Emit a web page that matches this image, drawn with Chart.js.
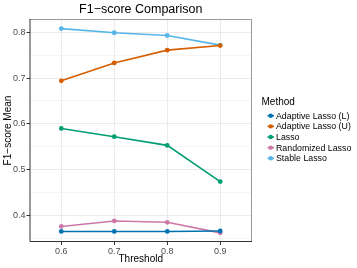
<!DOCTYPE html>
<html>
<head>
<meta charset="utf-8">
<script src="https://cdn.jsdelivr.net/npm/chart.js@4"></script>
<style>
  html, body { margin: 0; padding: 0; background: #fff; }
  #wrap { width: 357px; height: 268px; position: relative; }
</style>
</head>
<body>
<div id="wrap"><canvas id="chart" width="357" height="268"></canvas></div>
<script>
// values
const thresholds = [0.6, 0.7, 0.8, 0.9];
const methods = ['Adaptive Lasso (L)', 'Adaptive Lasso (U)', 'Lasso', 'Randomized Lasso', 'Stable Lasso'];
const adaptiveL = [0.365, 0.365, 0.365, 0.366];
const adaptiveU = [0.694, 0.733, 0.761, 0.771];
const lasso = [0.590, 0.572, 0.553, 0.474];
const randomized = [0.376, 0.388, 0.385, 0.362];
const stable = [0.808, 0.799, 0.793, 0.772];
const yTicks = [0.35, 0.4, 0.45, 0.5, 0.55, 0.6, 0.65, 0.7, 0.75, 0.8];
const yLabels = ['0.4', '0.5', '0.6', '0.7', '0.8'];

const colors = ['#0072B2', '#D55E00', '#009E73', '#CC79A7', '#56B4E9'];
const series = [adaptiveL, adaptiveU, lasso, randomized, stable];
const FONT = 'Liberation Sans, Arial, sans-serif';

const datasets = series.map((vals, i) => ({
    label: methods[i],
    data: thresholds.map((t, j) => ({ x: t, y: vals[j] })),
    borderColor: colors[i],
    backgroundColor: colors[i],
    borderWidth: 1.6,
    pointRadius: 2.4,
    pointBorderWidth: 0,
    tension: 0
}));

const isMajor = v => yLabels.includes(v.toFixed(1)) && Math.abs(v * 10 - Math.round(v * 10)) < 1e-6;

// ggplot-style text: title, axis titles, legend, panel border
const decorations = {
    id: 'decorations',
    afterDraw(chart) {
        const ctx = chart.ctx;
        const a = chart.chartArea;
        ctx.save();
        // top + right border light, left + bottom dark
        ctx.lineWidth = 1;
        ctx.strokeStyle = '#9a9a9a';
        ctx.beginPath();
        ctx.moveTo(a.left, a.top + 0.5);
        ctx.lineTo(a.right - 0.5, a.top + 0.5);
        ctx.lineTo(a.right - 0.5, a.bottom);
        ctx.stroke();
        ctx.strokeStyle = '#333333';
        ctx.beginPath();
        ctx.moveTo(a.left + 0.5, a.top);
        ctx.lineTo(a.left + 0.5, a.bottom - 0.5);
        ctx.lineTo(a.right, a.bottom - 0.5);
        ctx.stroke();

        ctx.fillStyle = '#000';
        ctx.textAlign = 'center';
        ctx.textBaseline = 'middle';
        ctx.font = '12.5px ' + FONT;
        ctx.fillText('F1\u2212score Comparison', (a.left + a.right) / 2, 10);

        ctx.font = '10px ' + FONT;
        ctx.fillText('Threshold', (a.left + a.right) / 2, 259.5);
        ctx.save();
        ctx.translate(8, (a.top + a.bottom) / 2);
        ctx.rotate(-Math.PI / 2);
        ctx.fillText('F1\u2212score Mean', 0, 0);
        ctx.restore();

        // legend
        ctx.textAlign = 'left';
        ctx.font = '10px ' + FONT;
        ctx.fillText('Method', 261.5, 102);
        ctx.font = '8.8px ' + FONT;
        methods.forEach((m, i) => {
            const y = 115.7 + i * 10.65;
            ctx.strokeStyle = colors[i];
            ctx.fillStyle = colors[i];
            ctx.lineWidth = 1.6;
            ctx.beginPath();
            ctx.moveTo(267.5, y);
            ctx.lineTo(274, y);
            ctx.stroke();
            ctx.beginPath();
            ctx.arc(270.7, y, 2.2, 0, Math.PI * 2);
            ctx.fill();
            ctx.fillStyle = '#000';
            ctx.fillText(m, 276, y + 0.5);
        });
        ctx.restore();
    }
};

new Chart(document.getElementById('chart'), {
    type: 'line',
    data: { datasets: datasets },
    options: {
        responsive: false,
        animation: false,
        layout: { padding: { left: 0, right: 105, top: 19, bottom: 0 } },
        plugins: { legend: { display: false }, tooltip: { enabled: false } },
        scales: {
            x: {
                type: 'linear',
                min: 0.54,
                max: 0.96,
                afterBuildTicks: s => { s.ticks = thresholds.map(v => ({ value: v })); },
                afterFit: s => { s.height = 26; },
                border: { display: false },
                grid: { color: '#EBEBEB', lineWidth: 1, tickColor: '#333333', tickLength: 3 },
                ticks: {
                    color: '#4D4D4D',
                    font: { family: FONT, size: 9 },
                    padding: 1.5,
                    maxRotation: 0,
                    callback: v => v.toFixed(1)
                }
            },
            y: {
                min: 0.342,
                max: 0.829,
                afterBuildTicks: s => { s.ticks = yTicks.map(v => ({ value: v })); },
                afterFit: s => { s.width = 29.5; },
                border: { display: false },
                grid: {
                    color: '#EBEBEB',
                    lineWidth: c => isMajor(c.tick.value) ? 1 : 0.5,
                    tickColor: c => isMajor(c.tick.value) ? '#333333' : 'rgba(0,0,0,0)',
                    tickLength: 3
                },
                ticks: {
                    color: '#4D4D4D',
                    font: { family: FONT, size: 9 },
                    padding: 1,
                    callback: v => isMajor(v) ? v.toFixed(1) : ''
                }
            }
        }
    },
    plugins: [decorations]
});
</script>
</body>
</html>
